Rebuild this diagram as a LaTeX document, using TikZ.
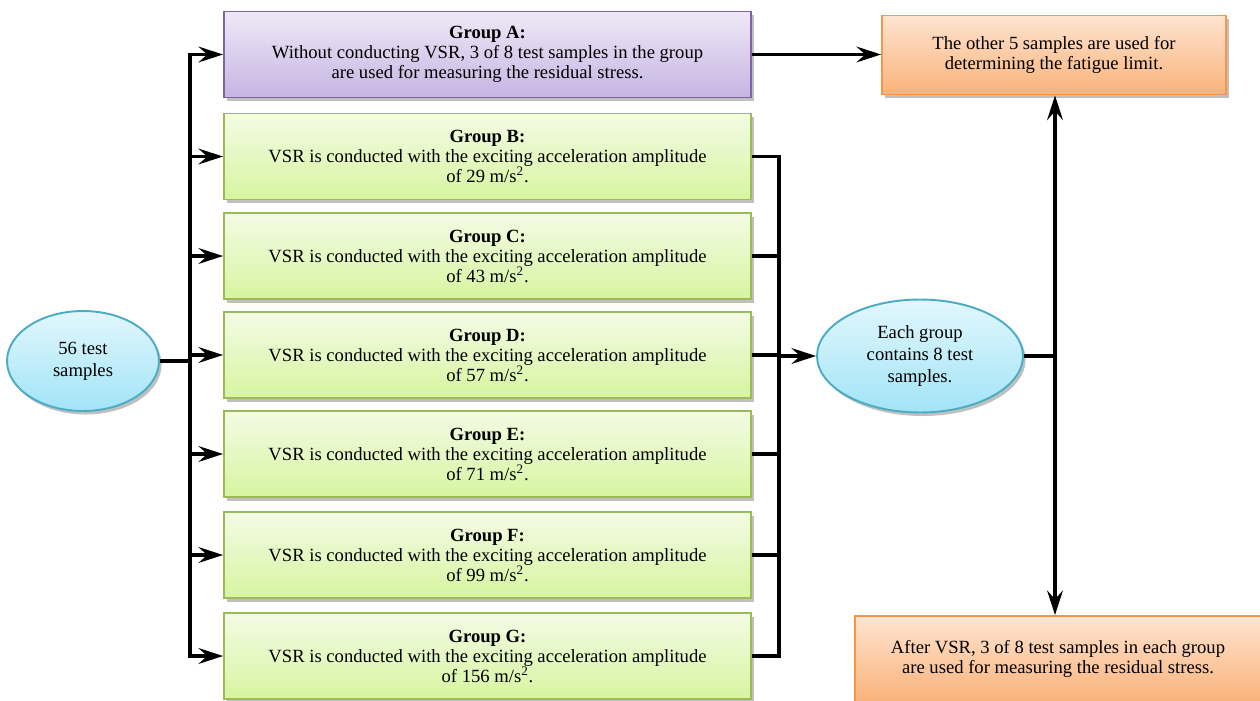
\documentclass[tikz,border=0pt]{standalone}
\usepackage{fontspec}
\setmainfont{Liberation Serif}
\usetikzlibrary{arrows.meta,shapes.geometric,shadows}
\definecolor{purpT}{HTML}{EFE9F7}
\definecolor{purpB}{HTML}{C6B4E2}
\definecolor{purpD}{HTML}{8064A2}
\definecolor{grnT}{HTML}{F4FBE5}
\definecolor{grnB}{HTML}{D6F5A0}
\definecolor{grnD}{HTML}{9BBB59}
\definecolor{orT}{HTML}{FEE4D0}
\definecolor{orB}{HTML}{FAB27A}
\definecolor{orD}{HTML}{F79646}
\definecolor{bluT}{HTML}{E2F7FD}
\definecolor{bluB}{HTML}{A2E4F7}
\definecolor{bluD}{HTML}{4BACC6}
\tikzset{
  txt/.style={font=\fontsize{10.6}{11.4}\selectfont, align=center, inner sep=0pt},
  shad/.style={drop shadow={shadow xshift=1.5pt, shadow yshift=-2pt, opacity=0.35, fill=black!70}},
  groupbox/.style={txt, shad, rectangle, draw=grnD, line width=1.1pt, top color=grnT, bottom color=grnB, minimum width=10.54cm, minimum height=1.72cm},
  purpbox/.style={groupbox, draw=purpD, top color=purpT, bottom color=purpB},
  orbox/.style={txt, shad, rectangle, draw=orD, line width=1.1pt, top color=orT, bottom color=orB},
  bluell/.style={txt, shad, ellipse, draw=bluD, line width=1.1pt, top color=bluT, bottom color=bluB, font=\fontsize{10.6}{12.4}\selectfont},
  conn/.style={line width=1.8pt, black},
  arr/.style={conn, -{Stealth[length=14pt, width=9pt, inset=5pt]}}
}
\begin{document}
\begin{tikzpicture}[x=0.02cm, y=-0.02cm]
\clip (0,0) rectangle (1260,700);
\fill[white] (0,0) rectangle (1260,700);

\node[bluell, minimum width=3.04cm, minimum height=2.0cm] (n56) at (83,361) {56 test\\samples};

\node[purpbox] (A) at (487.5,54.5) {\textbf{Group A:}\\Without conducting VSR, 3 of 8 test samples in the group\\are used for measuring the residual stress.};
\node[groupbox] (B) at (487.5,156.5) {\textbf{Group B:}\\VSR is conducted with the exciting acceleration amplitude\\of 29 m/s\textsuperscript{2}.};
\node[groupbox] (C) at (487.5,256) {\textbf{Group C:}\\VSR is conducted with the exciting acceleration amplitude\\of 43 m/s\textsuperscript{2}.};
\node[groupbox] (D) at (487.5,355) {\textbf{Group D:}\\VSR is conducted with the exciting acceleration amplitude\\of 57 m/s\textsuperscript{2}.};
\node[groupbox] (E) at (487.5,454) {\textbf{Group E:}\\VSR is conducted with the exciting acceleration amplitude\\of 71 m/s\textsuperscript{2}.};
\node[groupbox] (F) at (487.5,555) {\textbf{Group F:}\\VSR is conducted with the exciting acceleration amplitude\\of 99 m/s\textsuperscript{2}.};
\node[groupbox] (G) at (487.5,656) {\textbf{Group G:}\\VSR is conducted with the exciting acceleration amplitude\\of 156 m/s\textsuperscript{2}.};

\node[bluell, minimum width=4.12cm, minimum height=2.26cm] (each) at (920,356) {Each group\\contains 8 test\\samples.};

\node[orbox, minimum width=6.88cm, minimum height=1.58cm] (top) at (1054,55) {The other 5 samples are used for\\determining the fatigue limit.};
\node[orbox, minimum width=8.12cm, minimum height=1.72cm] (bot) at (1058,659) {After VSR, 3 of 8 test samples in each group\\are used for measuring the residual stress.};

\coordinate (trunk) at (190,0);
\coordinate (bus) at (779,0);
\coordinate (vbus) at (1055,0);

% left trunk
\draw[conn, line cap=rect] (A.west -| trunk) -- (G.west -| trunk);
\draw[conn] (n56.east) -- (n56.east -| trunk);
\foreach \n in {A,B,C,D,E,F,G}{
  \draw[arr] (\n.west -| trunk) -- (\n.west);
}
% right bus
\draw[conn] (B.east) -- (B.east -| bus) -- (G.east -| bus) -- (G.east);
\foreach \n in {C,D,E,F}{
  \draw[conn] (\n.east) -- (\n.east -| bus);
}
\draw[arr] (each.west -| bus) -- (each.west);
% A to top
\draw[arr] (A.east) -- (top.west |- A.east);
% each to vertical
\draw[conn] (each.east) -- (each.east -| vbus);
\draw[arr] (each.east -| vbus) -- (top.south -| vbus);
\draw[arr] (each.east -| vbus) -- (bot.north -| vbus);
\end{tikzpicture}
\end{document}
